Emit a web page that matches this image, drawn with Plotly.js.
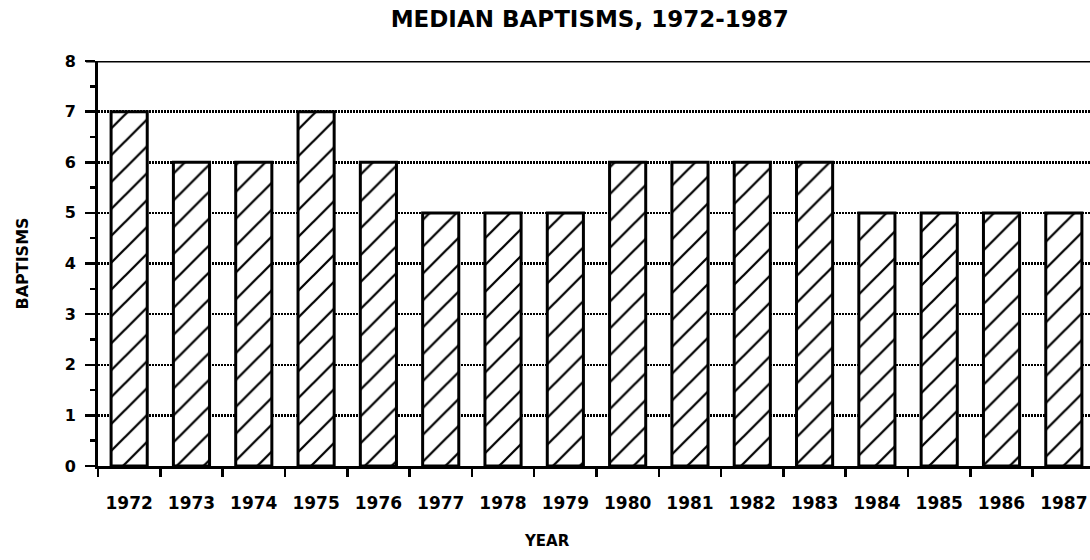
<!DOCTYPE html>
<html>
<head>
<meta charset="utf-8">
<script src="https://cdn.plot.ly/plotly-3.0.1.min.js"></script>
<style>html,body{margin:0;padding:0;background:#fff;}#chart{width:1090px;height:560px;}</style>
</head>
<body>
<div id="chart"></div>
<script>
const years = ["1972","1973","1974","1975","1976","1977","1978","1979","1980","1981","1982","1983","1984","1985","1986","1987"];
const medianBaptisms = [7,6,6,7,6,5,5,5,6,6,6,6,5,5,5,5];
const yTicks = [0,1,2,3,4,5,6,7,8];

const font = {family: "DejaVu Sans, Verdana, sans-serif", color: "#000", weight: "bold"};

const trace = {
  type: "bar",
  x: years,
  y: medianBaptisms,
  width: 0.58,
  marker: {
    color: "#fff",
    line: {color: "#000", width: 3},
    pattern: {shape: "/", fgcolor: "#000", fgopacity: 1, bgcolor: "#fff", size: 19, solidity: 0.12, fillmode: "replace"}
  },
  hoverinfo: "skip"
};

const layout = {
  width: 1090, height: 560,
  margin: {l: 98, r: 0, t: 61, b: 94},
  paper_bgcolor: "#fff", plot_bgcolor: "#fff",
  showlegend: false,
  title: {text: "MEDIAN BAPTISMS, 1972-1987", x: 0.541, xanchor: "center", yref: "container", y: 0.966, yanchor: "middle",
          font: Object.assign({}, font, {size: 23})},
  xaxis: {
    type: "category",
    range: [-0.5, 15.42],
    tickson: "boundaries",
    ticks: "outside", ticklen: 8, tickwidth: 2.5, tickcolor: "#000",
    ticklabelstandoff: 20,
    showline: true, linecolor: "#000", linewidth: 3,
    showgrid: false, zeroline: false,
    tickfont: Object.assign({}, font, {size: 17})
  },
  yaxis: {
    range: [0, 8],
    tickvals: yTicks,
    ticktext: yTicks.map(String),
    ticks: "outside", ticklen: 10, tickwidth: 2.5, tickcolor: "#000",
    ticklabelstandoff: 6,
    minor: {dtick: 0.5, tick0: 0, ticks: "outside", ticklen: 5, tickwidth: 2.5, tickcolor: "#000", showgrid: false},
    showline: true, linecolor: "#000", linewidth: 3,
    showgrid: true, gridcolor: "#000", gridwidth: 2.5, griddash: "2px,1px",
    zeroline: false,
    tickfont: Object.assign({}, font, {size: 16}),
    title: {text: "BAPTISMS", font: Object.assign({}, font, {size: 16}), standoff: 33}
  },
  annotations: [
    {text: "YEAR", xref: "paper", yref: "paper", x: 0.4526, y: -0.185, xanchor: "center", yanchor: "middle",
     showarrow: false, font: Object.assign({}, font, {size: 15})}
  ],
  shapes: [
    {type: "line", xref: "paper", yref: "y", x0: -0.012, x1: 1, y0: 8, y1: 8, line: {color: "#000", width: 3}, layer: "above"}
  ]
};

Plotly.newPlot("chart", [trace], layout, {displayModeBar: false, staticPlot: true});
</script>
</body>
</html>
